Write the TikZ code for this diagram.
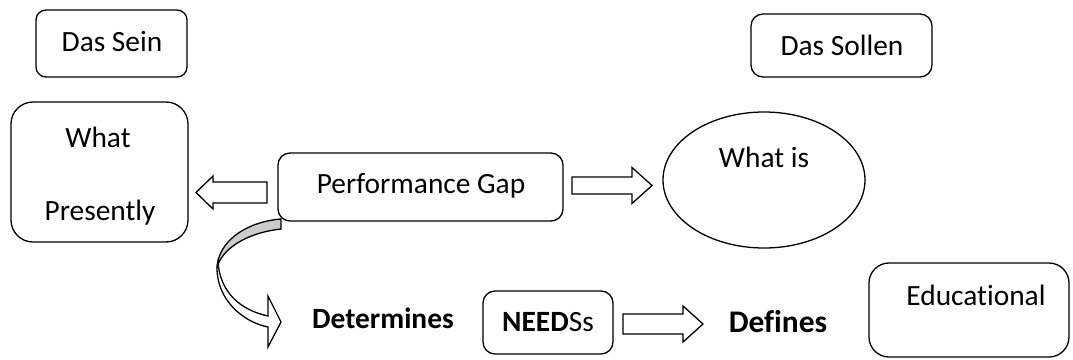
\documentclass[tikz,border=0pt]{standalone}
\usepackage{fontspec}
\setmainfont{Carlito}[Ligatures=NoCommon]
\usetikzlibrary{shapes.geometric}
\begin{document}
\begin{tikzpicture}[x=1pt,y=-1pt,
  line width=1.3pt,
  box/.style={draw,rectangle,inner sep=0pt,rounded corners=#1},
  box/.default=12pt,
  txt/.style={anchor=base,inner sep=0pt,font=\fontsize{29.4}{35}\selectfont},
  btxt/.style={txt,font=\fontsize{29.4}{35}\selectfont\bfseries},
  arrowline/.style={draw,line width=1.3pt,line join=miter,fill=white},
  pics/barrow/.style n args={4}{code={
    \path[arrowline] (0,-#3) -- (#1,-#3) -- (#1,-#4) -- (#1+#2,0)
      -- (#1,#4) -- (#1,#3) -- (0,#3) -- cycle;}}
]
\useasboundingbox (0,0) rectangle (1073,359);

% boxes
\node[box=10pt,minimum width=151pt,minimum height=67pt] (sein) at (111.5,43.5) {};
\node[box=22pt,minimum width=177pt,minimum height=140pt] (present) at (99.5,172) {};
\node[box,minimum width=285pt,minimum height=68pt] (gap) at (420.5,187) {};
\node[box,minimum width=181pt,minimum height=63pt] (sollen) at (841.5,45.5) {};
\node[draw,ellipse,inner sep=0pt,minimum width=202pt,minimum height=136pt] (whatis) at (764,180) {};
\node[box,minimum width=130pt,minimum height=63pt] (needs) at (548,322.5) {};
\node[box=20pt,minimum width=200pt,minimum height=94pt] (edu) at (969,310) {};

% texts
\node[txt] (tsein) at (112,51) {Das Sein};
\node[txt] (tsollen) at (842,55) {Das Sollen};
\node[txt] (twhat) at (98,147) {What};
\node[txt] (tpres) at (100,220) {Presently};
\node[txt] (tgap) at (421,193) {Performance Gap};
\node[txt] (twhatis) at (764,167) {What is};
\node[btxt] (tdet) at (383,328) {Determines};
\node[txt] (tneeds) at (548,331) {\textbf{NEED}Ss};
\node[btxt,font=\fontsize{31.5}{38}\selectfont\bfseries] (tdef) at (778,332) {Defines};
\node[txt] (tedu) at (976,305) {Educational};

% block arrows
\pic[rotate=180] at (267,192.5) {barrow={54}{17}{10.5}{16.5}};
\pic at (572,185.5) {barrow={60}{20}{8.5}{18}};
\pic at (623,324) {barrow={60}{20}{10}{18}};

% curved arrow below the gap box
\path[draw,fill=white,line join=miter]
  (217,268) .. controls (217,300) and (243,322) .. (268,327)
  -- (268,347) -- (281,322) -- (268,296) -- (268,316)
  .. controls (240,310) and (220,292) .. (218,262) -- cycle;
\path[draw,fill=gray!40,line join=miter]
  (281,219) .. controls (245,222) and (218,242) .. (217,268)
  .. controls (221,250) and (245,233) .. (281,229) -- cycle;
\end{tikzpicture}
\end{document}
